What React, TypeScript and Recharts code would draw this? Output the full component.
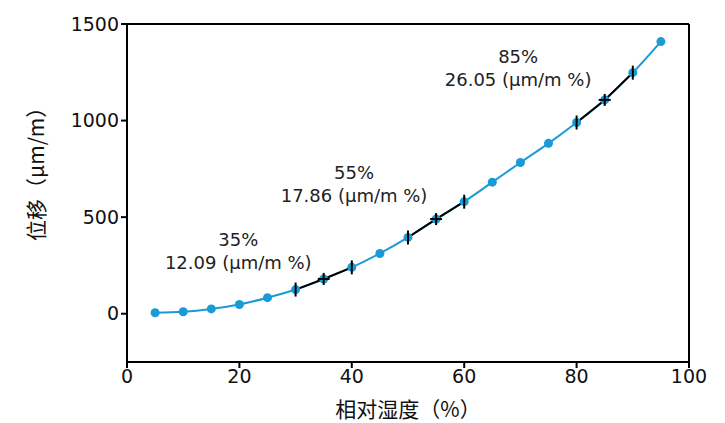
import React from 'react';
import { LineChart, Line, XAxis, YAxis, ReferenceLine, Label } from 'recharts';

const humidity = [5, 10, 15, 20, 25, 30, 35, 40, 45, 50, 55, 60, 65, 70, 75, 80, 85, 90, 95];
const displacement = [5, 10, 25, 48, 83, 125, 180, 240, 312, 395, 490, 580, 681, 783, 882, 990, 1107, 1248, 1409];

// humidity ranges where the slope was measured (start, centre, end)
const slopeRanges = [
    [30, 35, 40],
    [50, 55, 60],
    [80, 85, 90],
];
const slopeLabels = ['35%', '55%', '85%'];
const slopeValues = ['12.09 (μm/m %)', '17.86 (μm/m %)', '26.05 (μm/m %)'];
const labelAnchors = [
    { x: 19.8, y: 269 },
    { x: 40.4, y: 615 },
    { x: 69.6, y: 1215 },
];

const xTicks = [0, 20, 40, 60, 80, 100];
const yTicks = [0, 500, 1000, 1500];

const FONT = '"DejaVu Sans", "Noto Sans CJK SC", sans-serif';
const CJK_FONT = '"Noto Sans CJK SC", "DejaVu Sans", sans-serif';
const BLUE = '#1a9bd7';

const data = humidity.map((h, i) => {
    const inRange = slopeRanges.some((r) => h >= r[0] && h <= r[2]);
    return {
        rh: h,
        value: displacement[i],
        slope: inRange ? displacement[i] : null,
    };
});

const centres = slopeRanges.map((r) => r[1]);
const ends = slopeRanges.flatMap((r) => [r[0], r[2]]);

const SlopeDot = (props: any) => {
    const { cx, cy, payload } = props;
    if (payload.slope == null) return null;
    if (centres.includes(payload.rh)) {
        return (
            <g key={`c-${payload.rh}`} stroke="#000" strokeWidth={2}>
                <line x1={cx - 6} y1={cy} x2={cx + 6} y2={cy} />
                <line x1={cx} y1={cy - 6} x2={cx} y2={cy + 6} />
            </g>
        );
    }
    if (ends.includes(payload.rh)) {
        return (
            <line key={`e-${payload.rh}`} x1={cx} y1={cy - 7} x2={cx} y2={cy + 7} stroke="#000" strokeWidth={2} />
        );
    }
    return null;
};

const AnnotationText = ({ viewBox, top, bottom }: any) => {
    const { x, y } = viewBox;
    return (
        <g fontFamily={FONT} fontSize={18} fill="#222" textAnchor="middle">
            <text x={x} y={y - 16}>{top}</text>
            <text x={x} y={y + 7}>{bottom}</text>
        </g>
    );
};

export default function App() {
    return (
        <div style={{ position: 'fixed', left: 0, top: 0, width: 725, height: 423, background: '#fff' }}>
            <LineChart
                width={725}
                height={423}
                data={data}
                margin={{ top: 24, right: 36, bottom: 6, left: 67 }}
            >
                <XAxis
                    dataKey="rh"
                    type="number"
                    domain={[0, 100]}
                    ticks={xTicks}
                    stroke="#000"
                    strokeWidth={2}
                    tickSize={6}
                    tick={{ fill: '#111', fontSize: 19, fontFamily: FONT }}
                    height={55}
                >
                    <Label value="相对湿度（%）" position="insideBottom" offset={0} fill="#111" fontSize={21} fontFamily={CJK_FONT} />
                </XAxis>
                <YAxis
                    type="number"
                    domain={[-250, 1500]}
                    ticks={yTicks}
                    stroke="#000"
                    strokeWidth={2}
                    tickSize={6}
                    tick={{ fill: '#111', fontSize: 19, fontFamily: FONT }}
                    width={60}
                    allowDataOverflow
                >
                    <Label
                        value="位移（μm/m）"
                        angle={-90}
                        position="insideLeft"
                        offset={-30}
                        dy={48}
                        fill="#111"
                        fontSize={21}
                        fontFamily={CJK_FONT}
                    />
                </YAxis>
                <ReferenceLine y={1500} stroke="#000" strokeWidth={2} />
                <ReferenceLine x={100} stroke="#000" strokeWidth={2} />
                <Line
                    dataKey="value"
                    stroke={BLUE}
                    strokeWidth={2}
                    dot={{ r: 4.5, fill: BLUE, stroke: BLUE, strokeWidth: 0 }}
                    isAnimationActive={false}
                    type="monotone"
                />
                <Line
                    dataKey="slope"
                    stroke="#000"
                    strokeWidth={2}
                    dot={<SlopeDot />}
                    connectNulls={false}
                    isAnimationActive={false}
                    type="linear"
                />
                {labelAnchors.map((a, i) => (
                    <ReferenceLine
                        key={slopeLabels[i]}
                        segment={[{ x: a.x, y: a.y }, { x: a.x, y: a.y }]}
                        stroke="none"
                        label={<AnnotationText top={slopeLabels[i]} bottom={slopeValues[i]} />}
                    />
                ))}
            </LineChart>
        </div>
    );
}
